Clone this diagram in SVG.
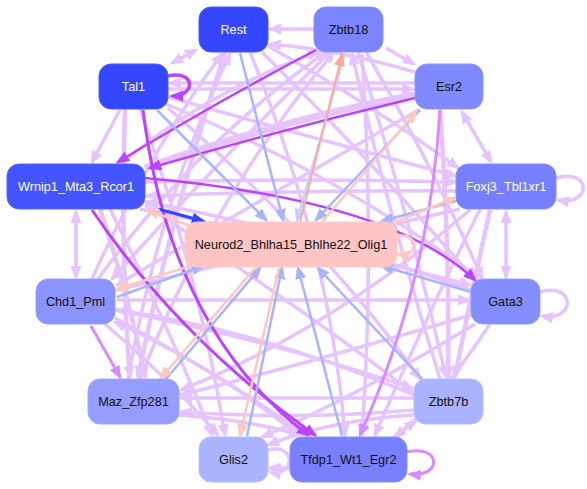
<svg xmlns="http://www.w3.org/2000/svg" width="587" height="489" viewBox="0 0 587 489">
<style>
.n text{font-family:"Liberation Sans",Arial,sans-serif;font-size:12.7px;text-anchor:middle;dominant-baseline:central}
.w text{fill:#fff}
.b text{fill:#111}
.e path{fill:none}
.lav{stroke:#e6c4ff;stroke-width:3.5;marker-end:url(#mL)}
.lav2{stroke:#e6c4ff;stroke-width:3.5;marker-end:url(#mL);marker-start:url(#mL)}
.mag{stroke:#d98cff;stroke-width:3;marker-end:url(#mM)}
.pur{stroke:#bb44ff;stroke-width:2.5;marker-end:url(#mP)}
.blu{stroke:#a9b4ff;stroke-width:2.5;marker-end:url(#mB)}
.pch{stroke:#ffc8bf;stroke-width:2.5;marker-end:url(#mC)}
</style>
<defs>
<marker id="mL" markerUnits="userSpaceOnUse" markerWidth="14" markerHeight="11" refX="11" refY="5.5" orient="auto-start-reverse"><path d="M0,0 L14,5.5 L0,11 z" fill="#e6c4ff"/></marker>
<marker id="mM" markerUnits="userSpaceOnUse" markerWidth="14" markerHeight="11" refX="11" refY="5.5" orient="auto"><path d="M0,0 L14,5.5 L0,11 z" fill="#d98cff"/></marker>
<marker id="mP" markerUnits="userSpaceOnUse" markerWidth="14" markerHeight="11" refX="11" refY="5.5" orient="auto"><path d="M0,0 L14,5.5 L0,11 z" fill="#bb44ff"/></marker>
<marker id="mB" markerUnits="userSpaceOnUse" markerWidth="14" markerHeight="11" refX="11" refY="5.5" orient="auto"><path d="M0,0 L14,5.5 L0,11 z" fill="#a9b4ff"/></marker>
<marker id="mD" markerUnits="userSpaceOnUse" markerWidth="14" markerHeight="11" refX="11" refY="5.5" orient="auto"><path d="M0,0 L14,5.5 L0,11 z" fill="#3344ff"/></marker>
<marker id="mC" markerUnits="userSpaceOnUse" markerWidth="14" markerHeight="11" refX="11" refY="5.5" orient="auto"><path d="M0,0 L14,5.5 L0,11 z" fill="#ffc8bf"/></marker>
<marker id="mR" markerUnits="userSpaceOnUse" markerWidth="14" markerHeight="11" refX="11" refY="5.5" orient="auto"><path d="M0,0 L14,5.5 L0,11 z" fill="#ffa89c"/></marker>
<marker id="mV" markerUnits="userSpaceOnUse" markerWidth="14" markerHeight="11" refX="11" refY="5.5" orient="auto"><path d="M0,0 L14,5.5 L0,11 z" fill="#c8cfff"/></marker>
</defs>
<g id="edges" class="e">
<path class="lav" d="M314,29 L270,29"/>
<path class="lav" d="M415,72 Q340,50 270,44"/>
<path class="lav2" d="M196,50 L172,63"/>
<path class="lav" d="M120,110 L92,162"/>
<path class="lav" d="M386,48 L414,64"/>
<path class="lav2" d="M462,112 L491,162"/>
<path class="lav2" d="M506,212 L506,277"/>
<path class="lav2" d="M76,212 L76,277"/>
<path class="mag" d="M91,326 L120,377"/>
<path class="lav" d="M395,436 L416,421"/>
<path class="lav" d="M415,83 L170,83"/>
<path class="lav" d="M168,89 L413,89"/>
<path class="lav" d="M168,97 Q320,140 456,176"/>
<path class="lav" d="M166,104 Q330,170 478,277"/>
<path class="lav" style="stroke-width:7" d="M145,168 Q280,120 414,95"/>
<path class="lav" d="M120,164 Q210,90 318,52"/>
<path class="lav" d="M98,279 Q200,140 326,52"/>
<path class="lav" d="M140,379 Q210,200 334,52"/>
<path class="lav" d="M92,279 Q150,150 222,54"/>
<path class="lav" d="M128,379 Q160,200 230,54"/>
<path class="lav" d="M358,52 Q410,220 446,377"/>
<path class="lav" d="M440,379 Q390,220 352,54"/>
<path class="lav" d="M366,52 Q430,160 482,278"/>
<path class="lav" d="M117,300 L469,300"/>
<path class="lav" d="M414,398 L181,398"/>
<path class="lav" d="M414,410 Q300,420 181,412"/>
<path class="lav" d="M145,182 Q300,178 456,182"/>
<path class="lav" d="M456,191 Q300,190 147,196"/>
<path class="lav" style="stroke-width:4.5" d="M225,52 Q170,220 138,377"/>
<path class="lav" style="stroke-width:4.5" d="M125,109 Q120,250 130,377"/>
<path class="lav" style="stroke-width:4.5" d="M100,209 Q130,300 145,377"/>
<path class="lav" d="M110,209 Q170,330 212,435"/>
<path class="lav" d="M105,324 Q170,380 218,435"/>
<path class="lav" d="M140,109 Q200,280 225,435"/>
<path class="lav" d="M115,318 Q230,380 305,435"/>
<path class="lav" d="M179,415 Q250,420 300,435"/>
<path class="lav" style="stroke-width:4.5" d="M440,110 Q450,250 448,377"/>
<path class="lav" style="stroke-width:4.5" d="M490,210 Q470,300 455,377"/>
<path class="lav" d="M115,310 Q270,340 412,388"/>
<path class="lav" d="M145,205 Q290,300 412,392"/>
<path class="lav" d="M262,52 Q380,170 474,279"/>
<path class="lav" d="M140,209 Q300,240 470,285"/>
<path class="lav" d="M268,46 Q380,110 458,168"/>
<path class="lav" d="M460,209 Q280,250 117,290"/>
<path class="lav" d="M420,109 Q260,200 117,285"/>
<path class="lav" d="M330,52 Q200,180 112,279"/>
<path class="lav" d="M471,290 Q300,230 146,202"/>
<path class="lav" d="M471,315 Q320,360 181,395"/>
<path class="lav" d="M470,210 Q330,330 181,390"/>
<path class="lav" d="M475,324 Q350,400 262,437"/>
<path class="lav" d="M414,415 Q330,420 268,445"/>
<path class="lav" d="M480,209 Q420,330 375,435"/>
<path class="lav" d="M490,324 Q440,400 395,437"/>
<path class="lav" d="M362,54 Q375,250 362,435"/>
<path class="lav" d="M250,52 Q330,250 345,435"/>
<path class="lav" d="M168,108 Q330,250 420,379"/>
<path class="lav" d="M300,437 Q220,370 115,322"/>
<path class="lav" d="M414,395 Q260,330 117,310"/>
<path class="lav" d="M290,468 L270,468"/>
<path class="lav" d="M268,450 C296,442 296,478 270,472"/>
<path class="mag" d="M407,452 C442,444 442,478 410,474"/>
<path class="lav" d="M556,178 C592,168 592,206 558,200"/>
<path class="lav" d="M540,292 C576,282 576,322 542,316"/>
<path class="pur" style="stroke-width:3.5" d="M168,76 C196,70 196,96 172,96"/>
<path class="pur" d="M316,50 Q220,100 118,162"/>
<path class="pur" d="M415,98 Q280,130 150,168"/>
<path class="pur" d="M145,178 Q390,200 475,280"/>
<path class="mag" d="M440,110 Q430,280 360,435"/>
<path class="pur" style="stroke-width:3" d="M92,210 Q180,340 315,435"/>
<path class="pur" style="stroke-width:3" d="M143,110 Q170,330 308,435"/>
<path class="blu" d="M240,53 L283,220"/>
<path class="blu" d="M157,110 L266,220"/>
<path style="stroke:#c8cfff;stroke-width:2.5;marker-end:url(#mV)" d="M345,53 L297,220"/>
<path style="stroke:#ffa89c;stroke-width:2;marker-end:url(#mR)" d="M300,222 L342,55"/>
<path class="blu" d="M420,110 L316,220"/>
<path class="pch" d="M322,222 L416,112"/>
<path class="blu" d="M456,201 L382,221"/>
<path class="pch" d="M392,223 L455,198"/>
<path style="stroke:#3344ff;stroke-width:3;marker-end:url(#mD)" d="M158,209 L203,221"/>
<path class="pch" d="M190,226 L148,210"/>
<path class="blu" d="M117,297 L203,266"/>
<path class="pch" d="M200,263 L117,289"/>
<path class="blu" d="M471,292 L382,266"/>
<path class="blu" d="M166,379 L260,268"/>
<path class="pch" d="M255,268 L161,378"/>
<path class="blu" d="M247,436 L282,268"/>
<path class="pch" d="M279,268 L240,435"/>
<path class="blu" d="M342,436 L298,268"/>
<path class="blu" d="M425,382 L318,268"/>
<path class="pch" d="M397,236 C420,232 420,258 398,254"/>
</g>
<g id="Rest" class="n w"><rect x="199" y="7" width="69" height="45" rx="12" fill="#3546ff" stroke="#4a59ff"/><text x="233.5" y="29.5">Rest</text></g>
<g id="Tal1" class="n w"><rect x="99" y="64" width="69" height="45" rx="12" fill="#3546ff" stroke="#4a59ff"/><text x="133.5" y="86.5">Tal1</text></g>
<g id="Wrnip1_Mta3_Rcor1" class="n w"><rect x="7" y="164" width="138" height="45" rx="12" fill="#4455ff" stroke="#5565ff"/><text x="76" y="186.5">Wrnip1_Mta3_Rcor1</text></g>
<g id="Zbtb18" class="n b"><rect x="314" y="7" width="69" height="45" rx="12" fill="#7a85ff" stroke="#8891ff"/><text x="348.5" y="29.5">Zbtb18</text></g>
<g id="Esr2" class="n b"><rect x="415" y="64" width="68" height="45" rx="12" fill="#808aff" stroke="#8e96ff"/><text x="449" y="86.5">Esr2</text></g>
<g id="Foxj3_Tbl1xr1" class="n w"><rect x="456" y="164" width="100" height="45" rx="12" fill="#7680ff" stroke="#858eff"/><text x="506" y="186.5">Foxj3_Tbl1xr1</text></g>
<g id="Neurod2_Bhlha15_Bhlhe22_Olig1" class="n b"><rect x="185" y="222" width="212" height="45" rx="12" fill="#ffc4c4" stroke="#ffcaca"/><text x="291" y="244.5">Neurod2_Bhlha15_Bhlhe22_Olig1</text></g>
<g id="Chd1_Pml" class="n b"><rect x="36" y="279" width="79" height="45" rx="12" fill="#8b93ff" stroke="#989fff"/><text x="75.5" y="301.5">Chd1_Pml</text></g>
<g id="Gata3" class="n b"><rect x="471" y="279" width="69" height="45" rx="12" fill="#858eff" stroke="#939bff"/><text x="505.5" y="301.5">Gata3</text></g>
<g id="Maz_Zfp281" class="n b"><rect x="88" y="379" width="91" height="45" rx="12" fill="#959dff" stroke="#a1a8ff"/><text x="133.5" y="401.5">Maz_Zfp281</text></g>
<g id="Zbtb7b" class="n b"><rect x="414" y="379" width="69" height="45" rx="12" fill="#aab3ff" stroke="#b4bcff"/><text x="448.5" y="401.5">Zbtb7b</text></g>
<g id="Glis2" class="n b"><rect x="199" y="437" width="69" height="45" rx="12" fill="#aab4ff" stroke="#b4bcff"/><text x="233.5" y="459.5">Glis2</text></g>
<g id="Tfdp1_Wt1_Egr2" class="n b"><rect x="290" y="437" width="117" height="45" rx="12" fill="#7880ff" stroke="#868eff"/><text x="348.5" y="459.5">Tfdp1_Wt1_Egr2</text></g>
</svg>
